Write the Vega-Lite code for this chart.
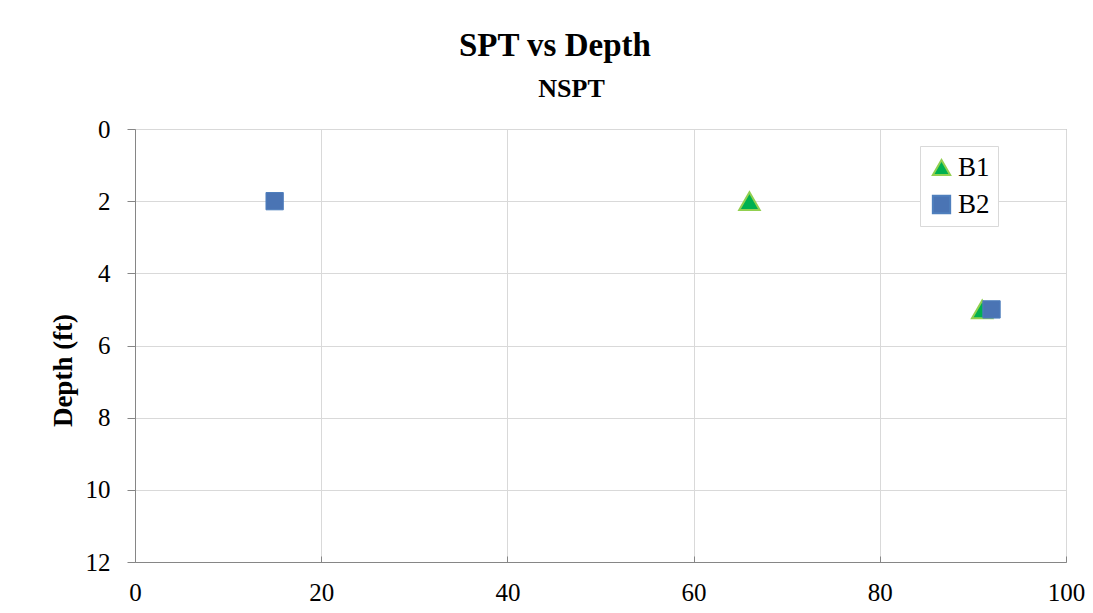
{
  "$schema": "https://vega.github.io/schema/vega-lite/v6.json",
  "autosize": {"type": "none"},
  "width": 931,
  "height": 433,
  "padding": {"left": 135, "top": 129, "right": 27, "bottom": 51},
  "background": "white",
  "title": {
    "text": "SPT vs Depth",
    "font": "Liberation Serif",
    "fontSize": 33,
    "fontWeight": "bold",
    "color": "black",
    "anchor": "middle",
    "frame": "bounds",
    "dx": -12,
    "offset": 12
  },
  "data": {
    "values": [
      {"series": "B1", "nspt": 66, "depth": 2},
      {"series": "B1", "nspt": 91, "depth": 5},
      {"series": "B2", "nspt": 15, "depth": 2},
      {"series": "B2", "nspt": 92, "depth": 5}
    ]
  },
  "encoding": {
    "y": {
      "field": "depth",
      "type": "quantitative",
      "scale": {"domain": [0, 12], "reverse": true, "nice": false, "zero": false},
      "axis": {
        "values": [0, 2, 4, 6, 8, 10, 12],
        "title": "Depth (ft)",
        "titleFont": "Liberation Serif",
        "titleFontSize": 27,
        "titleFontWeight": "bold",
        "titleColor": "black",
        "titlePadding": 8,
        "titleY": 241,
        "labelFont": "Liberation Serif",
        "labelFontSize": 25,
        "labelColor": "black",
        "labelAlign": "right",
        "labelPadding": 17,
        "labelFlush": false,
        "labelOverlap": false,
        "ticks": true,
        "tickSize": 8,
        "tickColor": "#868686",
        "domainColor": "#868686",
        "grid": true,
        "gridColor": "#d9d9d9"
      }
    },
    "color": {
      "field": "series",
      "type": "nominal",
      "scale": {"domain": ["B1", "B2"], "range": ["#00b050", "#4a74b4"]},
      "legend": {
        "title": null,
        "orient": "none",
        "legendX": 785,
        "legendY": 17,
        "padding": 8,
        "strokeColor": "#d9d9d9",
        "fillColor": "white",
        "labelFont": "Liberation Serif",
        "labelFontSize": 27,
        "labelColor": "black",
        "labelOffset": 3,
        "rowPadding": 9,
        "symbolSize": 300,
        "symbolStrokeWidth": 2
      }
    },
    "shape": {
      "field": "series",
      "type": "nominal",
      "scale": {"domain": ["B1", "B2"], "range": ["triangle-up", "square"]}
    },
    "stroke": {
      "field": "series",
      "type": "nominal",
      "scale": {"domain": ["B1", "B2"], "range": ["#92d050", "#4f7fbd"]}
    }
  },
  "layer": [
    {
      "transform": [{"filter": "datum.series === 'B1'"}],
      "mark": {"type": "point", "filled": true, "opacity": 1, "size": 420, "strokeWidth": 2},
      "encoding": {
        "x": {
          "field": "nspt",
          "type": "quantitative",
          "scale": {"domain": [0, 100], "nice": false},
          "axis": {
            "orient": "bottom",
            "values": [0, 20, 40, 60, 80, 100],
            "title": null,
            "labelFont": "Liberation Serif",
            "labelFontSize": 25,
            "labelColor": "black",
            "labelPadding": 24,
            "labelFlush": false,
            "labelOverlap": false,
            "tickSize": -6,
            "tickColor": "#868686",
            "domainColor": "#868686",
            "grid": true,
            "gridColor": "#d9d9d9"
          }
        }
      }
    },
    {
      "transform": [{"filter": "datum.series === 'B2'"}],
      "mark": {"type": "point", "filled": true, "opacity": 1, "size": 300, "strokeWidth": 1},
      "encoding": {
        "x": {
          "field": "nspt",
          "type": "quantitative",
          "scale": {"domain": [0, 100], "nice": false},
          "axis": {
            "orient": "top",
            "title": "NSPT",
            "titleFont": "Liberation Serif",
            "titleFontSize": 26,
            "titleFontWeight": "bold",
            "titleColor": "black",
            "titleX": 436,
            "titlePadding": 28,
            "labels": false,
            "ticks": false,
            "domain": false,
            "grid": false
          }
        }
      }
    }
  ],
  "resolve": {"axis": {"x": "independent"}},
  "config": {
    "view": {"stroke": "#a0a0a0", "strokeWidth": 1}
  }
}
